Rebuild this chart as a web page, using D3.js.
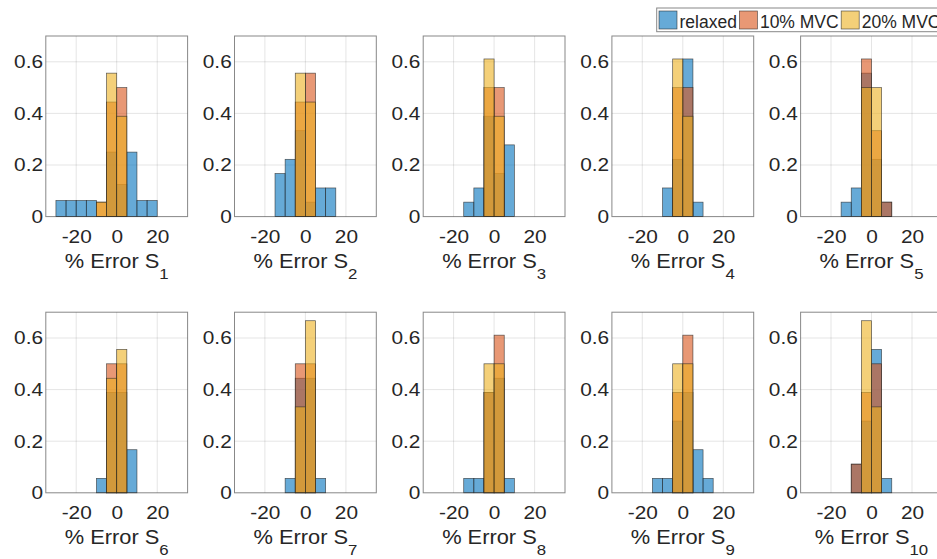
<!DOCTYPE html>
<html>
<head>
<meta charset="utf-8">
<script src="https://cdn.jsdelivr.net/npm/d3@7"></script>
<style>
  html, body { margin: 0; padding: 0; background: #fff; }
  svg { display: block; }
  text { font-family: "Liberation Sans", Arial, Helvetica, sans-serif; fill: #262626; }
</style>
</head>
<body>
<svg id="chart" width="937" height="559"></svg>
<script>
// ---- data (probability per 5%-wide bin) ----
const binStarts = [-30, -25, -20, -15, -10, -5, 0, 5, 10, 15];
const binWidth = 5;
const subjects = ["1", "2", "3", "4", "5", "6", "7", "8", "9", "10"];
const seriesNames = ["relaxed", "10% MVC", "20% MVC"];
const xTicks = [-20, 0, 20];
const yTicks = [0, 0.2, 0.4, 0.6];

const relaxed = [
  [0.0625, 0.0625, 0.0625, 0.0625, 0, 0.25, 0.125, 0.25, 0.0625, 0.0625],
  [0, 0, 0, 0.167, 0.222, 0.333, 0.056, 0.111, 0.111, 0],
  [0, 0, 0, 0.056, 0.111, 0.389, 0.167, 0.278, 0, 0],
  [0, 0, 0, 0, 0.111, 0.222, 0.611, 0.056, 0, 0],
  [0, 0, 0, 0.056, 0.111, 0.556, 0.222, 0.056, 0, 0],
  [0, 0, 0, 0, 0.056, 0.389, 0.389, 0.167, 0, 0],
  [0, 0, 0, 0, 0.056, 0.444, 0.444, 0.056, 0, 0],
  [0, 0, 0, 0.056, 0.056, 0.389, 0.444, 0.056, 0, 0],
  [0, 0, 0, 0.056, 0.056, 0.278, 0.389, 0.167, 0.056, 0],
  [0, 0, 0, 0, 0.111, 0.278, 0.556, 0.056, 0, 0]
];
const mvc10 = [
  [0, 0, 0, 0, 0.056, 0.444, 0.5, 0, 0, 0],
  [0, 0, 0, 0, 0, 0.444, 0.556, 0, 0, 0],
  [0, 0, 0, 0, 0, 0.5, 0.5, 0, 0, 0],
  [0, 0, 0, 0, 0, 0.5, 0.5, 0, 0, 0],
  [0, 0, 0, 0, 0, 0.611, 0.333, 0.056, 0, 0],
  [0, 0, 0, 0, 0, 0.5, 0.5, 0, 0, 0],
  [0, 0, 0, 0, 0, 0.5, 0.5, 0, 0, 0],
  [0, 0, 0, 0, 0, 0.389, 0.611, 0, 0, 0],
  [0, 0, 0, 0, 0, 0.389, 0.611, 0, 0, 0],
  [0, 0, 0, 0, 0.111, 0.389, 0.5, 0, 0, 0]
];
const mvc20 = [
  [0, 0, 0, 0, 0.056, 0.556, 0.389, 0, 0, 0],
  [0, 0, 0, 0, 0, 0.556, 0.444, 0, 0, 0],
  [0, 0, 0, 0, 0, 0.611, 0.389, 0, 0, 0],
  [0, 0, 0, 0, 0, 0.611, 0.389, 0, 0, 0],
  [0, 0, 0, 0, 0, 0.5, 0.5, 0, 0, 0],
  [0, 0, 0, 0, 0, 0.444, 0.556, 0, 0, 0],
  [0, 0, 0, 0, 0, 0.333, 0.667, 0, 0, 0],
  [0, 0, 0, 0, 0, 0.5, 0.5, 0, 0, 0],
  [0, 0, 0, 0, 0, 0.5, 0.5, 0, 0, 0],
  [0, 0, 0, 0, 0, 0.667, 0.333, 0, 0, 0]
];
const seriesData = [relaxed, mvc10, mvc20];
const seriesColors = ["#0072BD", "#D95319", "#EDB120"];

// ---- layout ----
const svg = d3.select("#chart");
svg.append("rect").attr("width", 937).attr("height", 559).attr("fill", "#fff");

const colStep = 188.7, firstLeft = 45.8, axW = 141.8, axH = 180.6;
const rowTops = [36, 312.2];
const tickFont = 18.6, labelFont = 19.5, subFont = 15;
const sx = 1.12; // horizontal text stretch seen in the reference

subjects.forEach((s, i) => {
  const row = Math.floor(i / 5), col = i % 5;
  const left = firstLeft + col * colStep;
  const top = rowTops[row];
  const x = d3.scaleLinear().domain([-35, 35]).range([left, left + axW]);
  const y = d3.scaleLinear().domain([0, 0.7]).range([top + axH, top]);
  const g = svg.append("g");

  // grid
  g.selectAll("line.gx").data(xTicks).join("line")
    .attr("x1", d => x(d)).attr("x2", d => x(d))
    .attr("y1", y(0)).attr("y2", y(0.7))
    .attr("stroke", "#262626").attr("stroke-opacity", 0.15).attr("stroke-width", 0.8);
  g.selectAll("line.gy").data(yTicks.slice(1)).join("line")
    .attr("x1", x(-35)).attr("x2", x(35))
    .attr("y1", d => y(d)).attr("y2", d => y(d))
    .attr("stroke", "#262626").attr("stroke-opacity", 0.15).attr("stroke-width", 0.8);

  // bars
  seriesData.forEach((ser, k) => {
    const vals = binStarts.map((b, j) => ({ b, v: ser[i][j] })).filter(d => d.v > 0);
    g.selectAll(null).data(vals).join("rect")
      .attr("x", d => x(d.b))
      .attr("width", d => x(d.b + binWidth) - x(d.b))
      .attr("y", d => y(d.v))
      .attr("height", d => y(0) - y(d.v))
      .attr("fill", seriesColors[k]).attr("fill-opacity", 0.6)
      .attr("stroke", "#262626").attr("stroke-opacity", 0.75).attr("stroke-width", 0.7);
  });

  // box
  g.append("rect")
    .attr("x", x(-35)).attr("y", y(0.7))
    .attr("width", x(35) - x(-35)).attr("height", y(0) - y(0.7))
    .attr("fill", "none").attr("stroke", "#262626").attr("stroke-opacity", 0.55).attr("stroke-width", 1);

  // axes
  const ax = g.append("g").attr("transform", `translate(0,${y(0)})`)
    .call(d3.axisBottom(x).tickValues(xTicks).tickFormat(d => String(d)).tickSize(0).tickPadding(12.8));
  const ay = g.append("g").attr("transform", `translate(${x(-35)},0)`)
    .call(d3.axisLeft(y).tickValues(yTicks).tickFormat(d => String(d)).tickSize(0).tickPadding(2.5));
  [ax, ay].forEach(a => {
    a.select(".domain").remove();
    a.selectAll("text").attr("font-size", tickFont).attr("fill", "#262626")
      .style("font-family", '"Liberation Sans", Arial, sans-serif')
      .attr("transform", `scale(${sx},1)`);
  });

  // label
  const lab = g.append("text")
    .attr("transform", `translate(${(x(-35) + x(35)) / 2},${y(0) + 51.6}) scale(${sx},1)`)
    .attr("text-anchor", "middle")
    .attr("font-size", labelFont);
  lab.append("tspan").text("% Error S");
  lab.append("tspan").attr("dy", 11).attr("font-size", subFont).text(s);
});

// ---- legend ----
const leg = svg.append("g");
leg.append("rect").attr("x", 656.7).attr("y", 8).attr("width", 320).attr("height", 23.7)
  .attr("fill", "#fff").attr("stroke", "#262626").attr("stroke-opacity", 0.55).attr("stroke-width", 1);
let lx = 659;
seriesNames.forEach((nm, k) => {
  leg.append("rect").attr("x", lx).attr("y", 11).attr("width", 18).attr("height", 18)
    .attr("fill", seriesColors[k]).attr("fill-opacity", 0.6)
    .attr("stroke", "#262626").attr("stroke-opacity", 0.75).attr("stroke-width", 0.7);
  const t = leg.append("text").attr("x", lx + 20.5).attr("y", 27.5)
    .attr("font-size", 17.5).text(nm);
  lx = lx + 20.5 + t.node().getComputedTextLength() + 2.5;
});
</script>
</body>
</html>
